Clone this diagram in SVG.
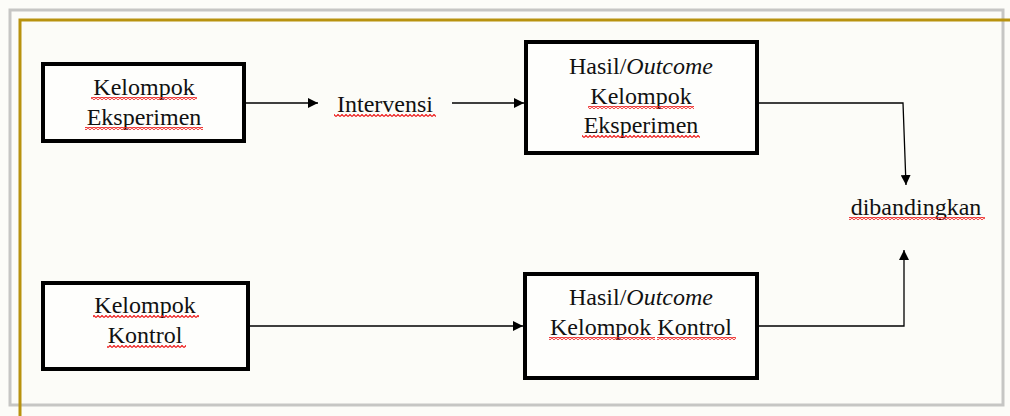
<svg xmlns="http://www.w3.org/2000/svg" width="1010" height="416" viewBox="0 0 1010 416">
  <style>
    .box { fill: #fefefc; stroke: #000; stroke-width: 4; }
    .t { font-family: "Liberation Serif", "Times New Roman", serif; font-size: 24px; fill: #111; text-anchor: middle; }
    .i { font-style: italic; }
    .edge { fill: none; stroke: #000; stroke-width: 1.3; }
    .sq { fill: url(#squiggle); }
  </style>
  <defs>
    <marker id="arrow" viewBox="0 0 10 10" refX="10" refY="5" markerWidth="10" markerHeight="10" markerUnits="userSpaceOnUse" orient="auto">
      <path d="M0 0 L10 5 L0 10 Z" fill="#000"/>
    </marker>
    <pattern id="squiggle" width="4" height="3" patternUnits="userSpaceOnUse">
      <polyline points="0,2.5 2,0.5 4,2.5" fill="none" stroke="#ee1c1c" stroke-width="1.2"/>
    </pattern>
  </defs>

  <!-- page background and frames -->
  <rect x="0" y="0" width="1010" height="416" fill="#fcfcf8"/>
  <rect x="10" y="10" width="993" height="395" fill="none" stroke="#c6c6c4" stroke-width="3"/>
  <path d="M20 416 V20 H1010" fill="none" stroke="#b8920e" stroke-width="3"/>

  <!-- connectors -->
  <g id="connectors">
    <line class="edge" x1="246" y1="103" x2="318" y2="103" marker-end="url(#arrow)"/>
    <line class="edge" x1="452" y1="103" x2="524" y2="103" marker-end="url(#arrow)"/>
    <polyline class="edge" points="755,103 903,103 906,185" marker-end="url(#arrow)"/>
    <line class="edge" x1="250" y1="326" x2="523" y2="326" marker-end="url(#arrow)"/>
    <polyline class="edge" points="759,326 904,326 904,250" marker-end="url(#arrow)"/>
  </g>

  <!-- experiment group -->
  <g id="kelompok-eksperimen">
    <rect class="box" x="43" y="64" width="201" height="77"/>
    <text class="t" x="144" y="95">Kelompok</text>
    <text class="t" x="144" y="125">Eksperimen</text>
    <rect class="sq" x="91" y="97" width="106" height="3"/>
    <rect class="sq" x="85" y="127" width="118" height="3"/>
  </g>

  <!-- intervention label -->
  <g id="intervensi">
    <text class="t" x="385" y="112">Intervensi</text>
    <rect class="sq" x="334" y="114" width="102" height="3"/>
  </g>

  <!-- experiment outcome -->
  <g id="hasil-eksperimen">
    <rect class="box" x="526" y="42" width="231" height="111"/>
    <text class="t" x="641" y="74">Hasil/<tspan class="i">Outcome</tspan></text>
    <text class="t" x="641" y="104">Kelompok</text>
    <text class="t" x="641" y="133">Eksperimen</text>
    <rect class="sq" x="588" y="106" width="106" height="3"/>
    <rect class="sq" x="582" y="135" width="118" height="3"/>
  </g>

  <!-- control group -->
  <g id="kelompok-kontrol">
    <rect class="box" x="43" y="283" width="205" height="86"/>
    <text class="t" x="145" y="313">Kelompok</text>
    <text class="t" x="145" y="343">Kontrol</text>
    <rect class="sq" x="93" y="315" width="106" height="3"/>
    <rect class="sq" x="107" y="345" width="79" height="3"/>
  </g>

  <!-- control outcome -->
  <g id="hasil-kontrol">
    <rect class="box" x="525" y="274" width="232" height="104"/>
    <text class="t" x="641" y="305">Hasil/<tspan class="i">Outcome</tspan></text>
    <text class="t" x="641" y="335">Kelompok Kontrol</text>
    <rect class="sq" x="549" y="337" width="106" height="3"/>
    <rect class="sq" x="657" y="337" width="79" height="3"/>
  </g>

  <!-- comparison label -->
  <g id="dibandingkan">
    <text class="t" x="916" y="215">dibandingkan</text>
    <rect class="sq" x="849" y="217" width="136" height="3"/>
  </g>
</svg>
